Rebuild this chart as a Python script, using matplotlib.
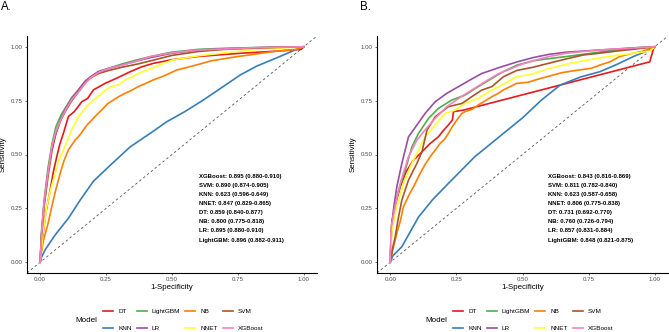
import matplotlib
matplotlib.use('Agg')
import matplotlib.pyplot as plt

plt.rcParams['font.family'] = ['Liberation Sans', 'DejaVu Sans']

models = ['DT', 'KNN', 'LightGBM', 'LR', 'NB', 'NNET', 'SVM', 'XGBoost']
colors = ['#E41A1C', '#377EB8', '#4DAF4A', '#984EA3', '#FF7F00', '#FFFF33', '#A65628', '#F781BF']

# ---- panel A (training set) ----
dt_a_fpr = [0, .008, .02, .038, .05, .063, .075, .088, .107, .13, .158, .18, .202, .246, .29, .341, .385, .429, .5, .6, .75, .9, .99, 1]
dt_a_tpr = [0, .10, .22, .336, .42, .49, .55, .598, .676, .70, .745, .76, .80, .83, .854, .884, .907, .923, .94, .955, .969, .98, .988, 1]
knn_a_fpr = [0, .006, .02, .057, .107, .152, .202, .27, .341, .417, .48, .55, .619, .70, .76, .821, .9, .972, 1]
knn_a_tpr = [0, .026, .06, .127, .204, .289, .376, .455, .535, .598, .652, .70, .753, .82, .87, .910, .95, .988, 1]
top_a_fpr = [0, .005, .015, .03, .045, .06, .08, .10, .12, .145, .17, .19, .22, .26, .31, .37, .42, .5, .6, .7, .8, .9, 1]
lgbm_a_tpr = [0, .14, .29, .44, .55, .63, .685, .725, .765, .80, .835, .855, .88, .90, .92, .94, .955, .975, .988, .993, .996, .999, 1]
lr_a_tpr = [0, .13, .27, .42, .53, .60, .67, .72, .76, .80, .84, .86, .885, .90, .915, .935, .95, .97, .985, .99, .995, .998, 1]
svm_a_tpr = [0, .12, .26, .40, .52, .60, .665, .71, .75, .79, .83, .855, .875, .89, .905, .92, .935, .96, .978, .988, .993, .997, 1]
xgb_a_tpr = [0, .13, .28, .42, .54, .61, .665, .715, .755, .79, .83, .855, .88, .90, .915, .935, .955, .972, .985, .99, .995, .998, 1]
nb_a_fpr = [0, .005, .013, .03, .044, .06, .076, .09, .107, .12, .133, .15, .164, .18, .196, .215, .234, .255, .278, .3,
            .322, .35, .372, .4, .429, .47, .518, .56, .606, .65, .7, .75, .795, .85, .9, .97, 1]
nb_a_tpr = [0, .05, .104, .18, .258, .34, .413, .47, .521, .545, .567, .59, .614, .64, .660, .685, .707, .735, .753, .77,
            .784, .80, .815, .83, .846, .865, .892, .905, .92, .935, .945, .955, .962, .972, .98, .988, 1]
nnet_a_fpr = [0, .01, .025, .04, .057, .07, .088, .105, .120, .145, .165, .189, .21, .234, .25, .271, .3, .322, .35, .372,
              .4, .423, .5, .6, .7, .8, .9, 1]
nnet_a_tpr = [0, .13, .258, .34, .413, .47, .521, .57, .614, .676, .705, .738, .76, .784, .80, .815, .825, .846, .86, .876,
              .89, .90, .938, .958, .972, .985, .993, 1]

# ---- panel B (validation set) ----
dt_b_fpr = [0, .003, .0063, .02, .038, .06, .088, .11, .126, .15, .182, .20, .220, .235, .239, .277, .981, .995, 1]
dt_b_tpr = [0, .12, .188, .27, .35, .42, .474, .50, .52, .55, .582, .61, .637, .66, .699, .706, .930, .99, 1]
knn_b_fpr = [0, .01, .044, .107, .16, .22, .32, .41, .50, .572, .642, .72, .792, .86, .918, .97, 1]
knn_b_tpr = [0, .03, .072, .21, .29, .366, .49, .58, .67, .753, .822, .86, .884, .92, .954, .98, 1]
lgbm_b_fpr = [0, .003, .0063, .015, .032, .057, .082, .107, .145, .182, .233, .283, .333, .384, .428, .48, .541, .60,
              .667, .73, .792, .85, .918, 1]
lgbm_b_tpr = [0, .09, .166, .25, .335, .428, .536, .598, .668, .714, .753, .776, .815, .853, .885, .915, .935, .945,
              .955, .965, .975, .985, .995, 1]
lr_b_fpr = [0, .003, .0063, .015, .025, .044, .069, .101, .132, .170, .214, .258, .302, .346, .384, .415, .48, .541,
            .60, .667, .73, .792, .9, 1]
lr_b_tpr = [0, .10, .181, .27, .35, .459, .582, .637, .691, .745, .784, .815, .846, .876, .892, .905, .93, .95,
            .965, .975, .98, .985, .993, 1]
nb_b_fpr = [0, .01, .025, .04, .05, .07, .088, .10, .113, .13, .151, .17, .189, .205, .220, .235, .252, .27, .283, .31,
            .333, .36, .384, .41, .428, .478, .52, .56, .604, .65, .70, .730, .760, .792, .83, .868, .90, .956, 1]
nb_b_tpr = [0, .06, .134, .20, .258, .31, .35, .38, .412, .45, .490, .52, .552, .57, .598, .63, .660, .69, .699, .71,
            .730, .75, .768, .785, .80, .83, .835, .85, .865, .88, .89, .895, .90, .915, .93, .955, .965, .98, 1]
nnet_b_fpr = [0, .0063, .015, .025, .05, .076, .101, .132, .170, .208, .246, .283, .333, .384, .434, .478, .54, .604,
              .67, .730, .80, .855, .92, .981, 1]
nnet_b_tpr = [0, .143, .20, .258, .366, .443, .505, .582, .637, .691, .706, .737, .761, .799, .83, .86, .875, .90,
              .92, .935, .95, .96, .97, .98, 1]
svm_b_fpr = [0, .008, .019, .03, .044, .069, .101, .120, .139, .170, .220, .271, .308, .346, .384, .428, .478, .54,
             .604, .67, .730, .79, .855, .93, 1]
svm_b_tpr = [0, .06, .119, .20, .289, .381, .459, .513, .613, .675, .722, .737, .768, .799, .815, .861, .89, .905,
             .925, .945, .962, .97, .98, .99, 1]
xgb_b_fpr = [0, .002, .004, .013, .025, .038, .069, .101, .132, .170, .214, .258, .308, .359, .409, .45, .5, .541,
             .60, .667, .73, .792, .9, 1]
xgb_b_tpr = [0, .10, .166, .227, .30, .366, .490, .567, .614, .668, .722, .760, .799, .838, .875, .895, .92, .935,
             .955, .97, .978, .985, .993, 1]

curves_a = {
    'DT': (dt_a_fpr, dt_a_tpr), 'KNN': (knn_a_fpr, knn_a_tpr),
    'LightGBM': (top_a_fpr, lgbm_a_tpr), 'LR': (top_a_fpr, lr_a_tpr),
    'NB': (nb_a_fpr, nb_a_tpr), 'NNET': (nnet_a_fpr, nnet_a_tpr),
    'SVM': (top_a_fpr, svm_a_tpr), 'XGBoost': (top_a_fpr, xgb_a_tpr),
}
curves_b = {
    'DT': (dt_b_fpr, dt_b_tpr), 'KNN': (knn_b_fpr, knn_b_tpr),
    'LightGBM': (lgbm_b_fpr, lgbm_b_tpr), 'LR': (lr_b_fpr, lr_b_tpr),
    'NB': (nb_b_fpr, nb_b_tpr), 'NNET': (nnet_b_fpr, nnet_b_tpr),
    'SVM': (svm_b_fpr, svm_b_tpr), 'XGBoost': (xgb_b_fpr, xgb_b_tpr),
}

labels_a = ['XGBoost: 0.895 (0.880-0.910)', 'SVM: 0.890 (0.874-0.905)', 'KNN: 0.623 (0.596-0.649)',
            'NNET: 0.847 (0.829-0.865)', 'DT: 0.859 (0.840-0.877)', 'NB: 0.800 (0.775-0.818)',
            'LR: 0.895 (0.880-0.910)', 'LightGBM: 0.896 (0.882-0.911)']
labels_b = ['XGBoost: 0.843 (0.816-0.869)', 'SVM: 0.811 (0.782-0.840)', 'KNN: 0.623 (0.587-0.658)',
            'NNET: 0.806 (0.775-0.838)', 'DT: 0.731 (0.692-0.770)', 'NB: 0.760 (0.726-0.794)',
            'LR: 0.857 (0.831-0.884)', 'LightGBM: 0.848 (0.821-0.875)']

ticks = [0, 0.25, 0.5, 0.75, 1.0]
tick_labels = ['0.00', '0.25', '0.50', '0.75', '1.00']

W, H = 669, 332
fig = plt.figure(figsize=(W / 100, H / 100), dpi=100, facecolor='white')
axA = fig.add_axes((27 / W, 59 / H, 290 / W, 237 / H))
axB = fig.add_axes((377 / W, 59 / H, 291 / W, 237 / H))


def draw_panel(ax, curves, labels, text_x, legend_x, model_x, tag, tag_x):
    ax.plot([-0.05, 1.05], [-0.05, 1.05], ls=(0, (3, 3)), color='#555555', lw=0.6, zorder=1)
    handles = []
    for name, col in zip(models, colors):
        fpr, tpr = curves[name]
        h, = ax.plot(fpr, tpr, color=col, lw=1.2, label=name, zorder=2)
        handles.append(h)
    for i, s in enumerate(labels):
        ax.text(text_x, 0.40 - i * 0.0425, s, fontsize=4.3, fontweight='bold', ha='left', va='center')
    ax.set_xlim(-0.05, 1.05)
    ax.set_ylim(-0.05, 1.05)
    ax.set_xticks(ticks)
    ax.set_xticklabels(tick_labels)
    ax.set_yticks(ticks)
    ax.set_yticklabels(tick_labels)
    for sp in ['top', 'right']:
        ax.spines[sp].set_visible(False)
    for sp in ['left', 'bottom']:
        ax.spines[sp].set_linewidth(0.8)
    ax.tick_params(labelsize=4.4, labelcolor='#4D4D4D', length=1.6, width=0.5, color='#333333', pad=1.5)
    ax.set_xlabel('1-Specificity', fontsize=5.7, labelpad=1)
    ax.set_ylabel('Sensitivity', fontsize=5.7, labelpad=3)
    fig.legend(handles=handles, ncol=4, loc='center left', bbox_to_anchor=(legend_x / W, 12 / H),
               frameon=False, fontsize=4.6, handlelength=1.6, handletextpad=0.75, columnspacing=0.8,
               labelspacing=1.75, borderpad=0, borderaxespad=0)
    fig.text(model_x / W, 12 / H, 'Model', fontsize=5.8, ha='left', va='center')
    fig.text(tag_x / W, 1 - 7.5 / H, tag, fontsize=8.3, ha='left', va='center')


draw_panel(axA, curves_a, labels_a, 0.602, 103, 75, 'A.', 1)
draw_panel(axB, curves_b, labels_b, 0.596, 453, 425, 'B.', 360)

fig.savefig('out.png', dpi=100, facecolor='white')
